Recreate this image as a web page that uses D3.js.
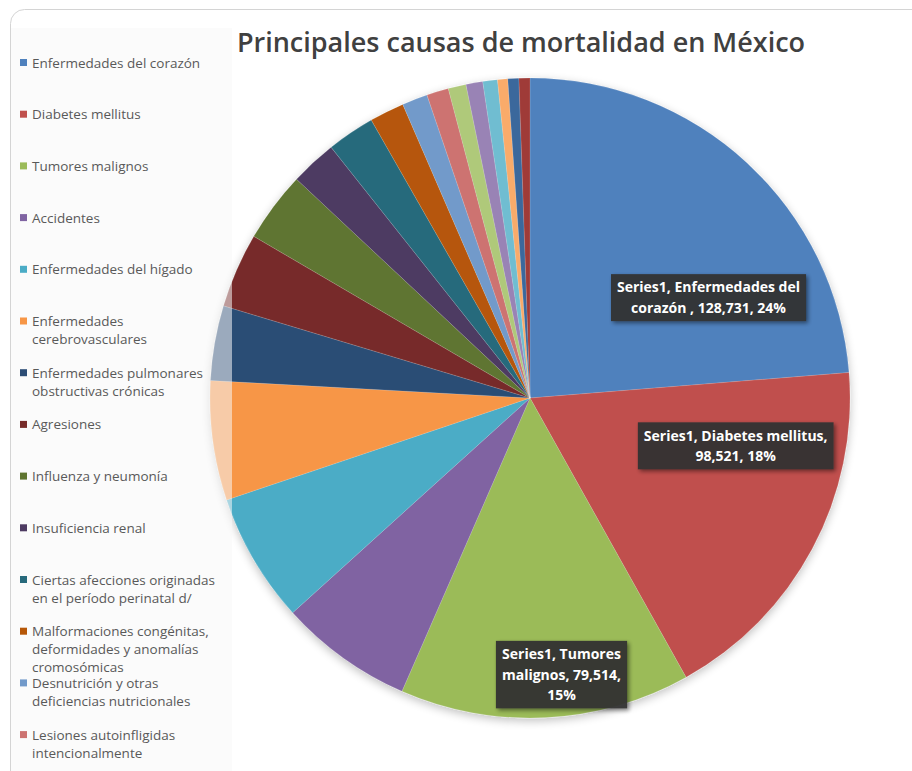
<!DOCTYPE html>
<html>
<head>
<meta charset="utf-8">
<script src="https://cdn.jsdelivr.net/npm/d3@7"></script>
<style>
    body { margin: 0; background: #fff; }
    svg { display: block; }
</style>
</head>
<body>
<div id="chart"></div>
<script>
const title = 'Principales causas de mortalidad en México';

const causes = [
    'Enfermedades del corazón ',
    'Diabetes mellitus',
    'Tumores malignos',
    'Accidentes',
    'Enfermedades del hígado',
    'Enfermedades cerebrovasculares',
    'Enfermedades pulmonares obstructivas crónicas',
    'Agresiones',
    'Influenza y neumonía',
    'Insuficiencia renal',
    'Ciertas afecciones originadas en el período perinatal d/',
    'Malformaciones congénitas, deformidades y anomalías cromosómicas',
    'Desnutrición y otras deficiencias nutricionales',
    'Lesiones autoinfligidas intencionalmente',
    'Enfermedad por virus de la inmunodeficiencia humana',
    'Septicemia',
    'Anemias',
    'Úlceras gástrica y duodenal',
    'Enfermedades infecciosas intestinales',
    'Tuberculosis pulmonar'
];

const deaths = [
    128731, 98521, 79514, 36600, 35500, 32700, 20500, 20500, 19300, 12700,
    13100, 9500, 7000, 6000, 4900, 4600, 4000, 2800, 3000, 3000
];

const colors = [
    '#4f81bd', '#c0504d', '#9bbb59', '#8064a2', '#4bacc6', '#f79646',
    '#2c4d75', '#772c2a', '#5f7530', '#4d3b62', '#276a7c', '#b65708',
    '#729aca', '#cd7371', '#afc97a', '#9983b5', '#6fbdd1', '#f9ab6b',
    '#3a679c', '#9f3b38'
];

// data labels only on the three biggest slices: [slice index, angle fraction, radius fraction, wrap width]
const labelled = [0, 1, 2];
const labelSpots = [[0.71, 0.64, 195], [0.27, 0.66, 200], [0.43, 0.87, 140]];

const width = 912;
const height = 771;
const cx = 530, cy = 398, radius = 320;

const svg = d3.select('#chart').append('svg')
    .attr('width', width)
    .attr('height', height);

const defs = svg.append('defs');

const shadow = defs.append('filter')
    .attr('id', 'pie-shadow')
    .attr('x', '-20%').attr('y', '-20%')
    .attr('width', '140%').attr('height', '140%');
shadow.append('feGaussianBlur').attr('in', 'SourceAlpha').attr('stdDeviation', 5);
shadow.append('feOffset').attr('dx', 0).attr('dy', 3).attr('result', 'blur');
shadow.append('feComponentTransfer').append('feFuncA').attr('type', 'linear').attr('slope', 0.25);
const merge = shadow.append('feMerge');
merge.append('feMergeNode');
merge.append('feMergeNode').attr('in', 'SourceGraphic');

const boxShadow = defs.append('filter')
    .attr('id', 'box-shadow')
    .attr('x', '-20%').attr('y', '-30%')
    .attr('width', '140%').attr('height', '160%');
boxShadow.append('feGaussianBlur').attr('in', 'SourceAlpha').attr('stdDeviation', 2);
boxShadow.append('feOffset').attr('dx', 2).attr('dy', 2);
boxShadow.append('feComponentTransfer').append('feFuncA').attr('type', 'linear').attr('slope', 0.5);
const merge2 = boxShadow.append('feMerge');
merge2.append('feMergeNode');
merge2.append('feMergeNode').attr('in', 'SourceGraphic');

// chart frame
svg.append('rect')
    .attr('x', 10.5).attr('y', 9.5)
    .attr('width', 1000).attr('height', 1000)
    .attr('rx', 14)
    .attr('fill', '#fff')
    .attr('stroke', '#d4d4d4');

svg.append('text')
    .attr('x', 521)
    .attr('y', 52)
    .attr('text-anchor', 'middle')
    .style('font-family', '"Open Sans", sans-serif')
    .style('font-size', '27px')
    .style('font-weight', 600)
    .attr('fill', '#404040')
    .text(title);

const pie = d3.pie().sort(null).value(d => d);
const arcs = pie(deaths);
const total = d3.sum(deaths);
const arc = d3.arc().innerRadius(0).outerRadius(radius);

const pieG = svg.append('g')
    .attr('transform', `translate(${cx},${cy})`)
    .attr('filter', 'url(#pie-shadow)');

pieG.selectAll('path')
    .data(arcs)
    .enter().append('path')
    .attr('d', arc)
    .attr('fill', (d, i) => colors[i])
    .attr('stroke', 'rgba(255,255,255,0.25)')
    .attr('stroke-width', 0.5);

// legend box, semi transparent so it lightens the pie edge under it
const legend = svg.append('g');
legend.append('rect')
    .attr('x', 11).attr('y', 28)
    .attr('width', 221).attr('height', 800)
    .attr('fill', '#f7f7f7')
    .attr('opacity', 0.55);

function wrapWords(textSel, words, maxWidth) {
    const lines = [];
    let line = '';
    const probe = textSel.append('tspan');
    words.forEach(w => {
        const test = line ? line + ' ' + w : w;
        probe.text(test);
        if (line && probe.node().getComputedTextLength() > maxWidth) {
            lines.push(line);
            line = w;
        } else {
            line = test;
        }
    });
    if (line) lines.push(line);
    probe.remove();
    return lines;
}

const legendTop = 63;
const legendStep = 51.7;
const legendLine = 18;

// like the original, the legend is truncated once it runs out of room
causes.forEach((name, i) => {
    const y = legendTop + i * legendStep;
    if (y > height - 20) return;
    legend.append('rect')
        .attr('x', 20).attr('y', y - 4)
        .attr('width', 7).attr('height', 7)
        .attr('fill', colors[i]);
    const t = legend.append('text')
        .attr('x', 32)
        .attr('y', y + 4.5)
        .style('font-family', '"Open Sans", sans-serif')
        .style('font-size', '13.5px')
        .attr('fill', '#595959');
    const lines = wrapWords(t, name.trim().split(' '), 192);
    lines.forEach((l, k) => {
        t.append('tspan')
            .attr('x', 32)
            .attr('dy', k === 0 ? 0 : legendLine)
            .text(l);
    });
});

// data labels
const fmt = d3.format(',');
const labelG = svg.append('g').attr('transform', `translate(${cx},${cy})`);

labelled.forEach((idx, j) => {
    const a = arcs[idx];
    const [af, rf, wrapW] = labelSpots[j];
    const ang = a.startAngle + af * (a.endAngle - a.startAngle);
    const r = rf * radius;
    const x = Math.sin(ang) * r;
    const y = -Math.cos(ang) * r;
    const pct = Math.round(deaths[idx] / total * 100) + '%';
    const label = `Series1, ${causes[idx]}, ${fmt(deaths[idx])}, ${pct}`;

    const g = labelG.append('g');
    const box = g.append('rect')
        .attr('fill', '#333333')
        .attr('opacity', 0.95)
        .attr('filter', 'url(#box-shadow)');
    const t = g.append('text')
        .attr('text-anchor', 'middle')
        .style('font-family', '"Open Sans", sans-serif')
        .style('font-size', '14px')
        .style('font-weight', 700)
        .attr('fill', '#fff');
    const lines = wrapWords(t, label.split(' '), wrapW);
    const lh = 20.5;
    const y0 = y - (lines.length - 1) * lh / 2 + 5;
    lines.forEach((l, k) => {
        t.append('tspan')
            .attr('x', x)
            .attr('y', y0 + k * lh)
            .text(l);
    });
    const bb = t.node().getBBox();
    box.attr('x', bb.x - 6)
        .attr('y', y - (lines.length * lh) / 2 - 3)
        .attr('width', bb.width + 12)
        .attr('height', lines.length * lh + 6);
});
</script>
</body>
</html>
